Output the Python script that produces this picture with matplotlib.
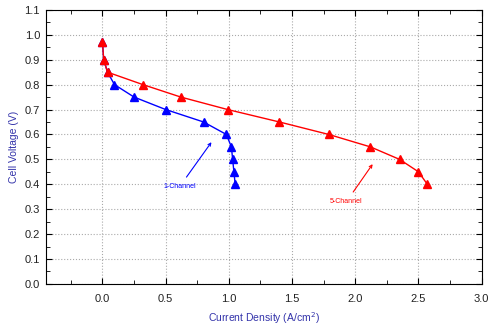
import matplotlib
matplotlib.use("Agg")
import matplotlib.pyplot as plt
import numpy as np

plt.rcParams['font.family'] = ['Liberation Sans', 'DejaVu Sans']

# 5-channel polarization curve
ch5_current = [0.0, 0.01, 0.04, 0.32, 0.62, 0.99, 1.40, 1.79, 2.12, 2.35, 2.50, 2.57]
ch5_voltage = [0.97, 0.90, 0.85, 0.80, 0.75, 0.70, 0.65, 0.60, 0.55, 0.50, 0.45, 0.40]

# 1-channel polarization curve
ch1_current = [0.0, 0.01, 0.04, 0.095, 0.25, 0.50, 0.80, 0.98, 1.02, 1.03, 1.04, 1.05]
ch1_voltage = [0.97, 0.90, 0.85, 0.80, 0.75, 0.70, 0.65, 0.60, 0.55, 0.50, 0.45, 0.40]

fig = plt.figure(figsize=(4.9, 3.29), dpi=100)
ax = fig.add_axes([0.093, 0.137, 0.89, 0.833])

ax.plot(ch1_current, ch1_voltage, color='blue', linewidth=1, marker='^', markersize=6)
ax.plot(ch5_current, ch5_voltage, color='red', linewidth=1, marker='^', markersize=6)

ax.annotate('1-Channel', xy=(0.875, 0.578), xytext=(0.61, 0.39),
            color='blue', fontsize=5, ha='center', va='center',
            arrowprops=dict(arrowstyle='->', color='blue', lw=0.8, shrinkA=3))
ax.annotate('5-Channel', xy=(2.15, 0.49), xytext=(1.93, 0.33),
            color='red', fontsize=5, ha='center', va='center',
            arrowprops=dict(arrowstyle='->', color='red', lw=0.8, shrinkA=3))

ax.set_xlim(-0.45, 3.0)
ax.set_ylim(0, 1.1)
ax.set_xticks(np.arange(0, 3.01, 0.5))
ax.set_yticks(np.arange(0, 1.11, 0.1))
ax.set_xticks(np.arange(-0.25, 3.0, 0.25), minor=True)
ax.set_yticks(np.arange(0.05, 1.1, 0.05), minor=True)
ax.set_xticklabels(['%.1f' % v for v in np.arange(0, 3.01, 0.5)])
ax.set_yticklabels(['%.1f' % v for v in np.arange(0, 1.11, 0.1)])
ax.tick_params(which='both', direction='in', top=True, right=True, labelsize=8, labelcolor='#222222')
ax.tick_params(which='major', length=4)
ax.tick_params(which='minor', length=3)
ax.tick_params(axis='x', pad=7)
ax.tick_params(axis='y', pad=4)
ax.grid(True, which='major', color='#aaaaaa', linestyle=':', linewidth=0.8)

ax.set_xlabel('Current Density (A/cm$^2$)', color='#3333aa', fontsize=7.5, labelpad=5)
ax.set_ylabel('Cell Voltage (V)', color='#3333aa', fontsize=7.5, labelpad=4)

fig.savefig('out.png', dpi=100)
